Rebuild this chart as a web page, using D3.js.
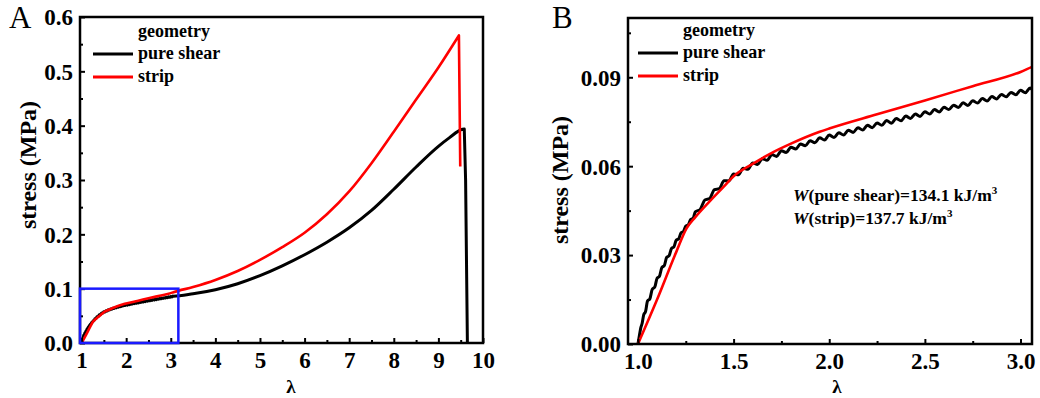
<!DOCTYPE html>
<html><head><meta charset="utf-8">
<script src="https://cdn.jsdelivr.net/npm/d3@7"></script>
<style>
html,body{margin:0;padding:0;background:#fff;}
svg{display:block;}
text{font-family:"Liberation Serif","Times New Roman",serif;}
</style></head>
<body>
<svg id="c" width="1040" height="398"></svg>
<script>
// ---- data (λ, stress MPa) ----
const pureShearLambda = [1.000,1.008,1.015,1.022,1.030,1.040,1.050,1.062,1.075,1.088,1.100,1.112,1.125,1.138,1.150,1.163,1.175,1.188,1.200,1.213,1.225,1.238,1.250,1.263,1.275,1.288,
 1.300,1.325,1.350,1.375,1.400,1.425,1.450,1.475,1.500,1.525,1.550,1.575,1.600,1.625,1.650,1.675,1.700,1.725,1.750,1.775,1.800,1.825,1.850,1.875,1.900,1.925,1.950,1.975,
 2.000,2.025,2.050,2.075,2.100,2.125,2.150,2.175,2.200,2.225,2.250,2.275,2.300,2.325,2.350,2.375,2.400,2.425,2.450,2.475,2.500,2.525,2.550,2.575,2.600,2.625,2.650,2.675,
 2.700,2.725,2.750,2.775,2.800,2.825,2.850,2.875,2.900,2.925,2.950,2.975,3.000,3.025,3.050,3.060,
 3.5,4.0,4.5,5.0,5.5,6.0,6.5,7.0,7.5,8.0,8.5,9.0,9.25,9.52,9.58,9.61,9.63,9.65];
const pureShearStress = [0,.0030,.0055,.0070,.0098,.0110,.0145,.0152,.0185,.0192,.0222,.0228,.0258,.0265,.0292,.0298,.0322,.0328,.0350,.0355,.0375,.0380,.0398,.0402,.0420,.0424,
 .0446,.0454,.0486,.0491,.0521,.0524,.0551,.0550,.0574,.0571,.0593,.0590,.0611,.0606,.0625,.0620,.0639,.0633,.0652,.0646,.0664,.0658,.0675,.0669,.0686,.0679,.0696,.0688,
 .0705,.0697,.0713,.0705,.0721,.0714,.0730,.0722,.0738,.0730,.0746,.0738,.0754,.0745,.0761,.0753,.0769,.0761,.0776,.0768,.0784,.0776,.0791,.0783,.0799,.0791,.0806,.0798,
 .0814,.0805,.0821,.0813,.0828,.0820,.0835,.0827,.0842,.0834,.0849,.0841,.0856,.0848,.0864,.0860,
 .0905,.0980,.1090,.1240,.1420,.1625,.1855,.2120,.2440,.2830,.3240,.3620,.3780,.3930,.3940,.30,.15,0];

const stripLambda = [1.00,1.10,1.20,1.254,1.30,1.376,1.45,1.50,1.60,1.70,1.80,1.95,2.00,2.25,2.50,2.75,3.00,3.06,
 3.5,4.0,4.5,5.0,5.5,6.0,6.5,7.0,7.5,8.0,8.5,9.0,9.46,9.49];
const stripStress = [0,.0150,.0310,.0390,.0428,.0482,.0532,.0566,.0608,.0645,.0676,.0716,.0727,.0775,.0822,.0870,.0918,.0935,
 .1030,.1160,.1325,.1530,.1765,.2030,.2370,.2790,.3310,.3890,.4480,.5070,.5660,.3250];

const seriesNames = ["pure shear","strip"];
const seriesColors = ["#000000","#ff0000"];

const ticksA_x = [1,2,3,4,5,6,7,8,9,10];
const ticksA_y = [0.0,0.1,0.2,0.3,0.4,0.5,0.6];
const ticksB_x = [1.0,1.5,2.0,2.5,3.0];
const ticksB_y = [0.00,0.03,0.06,0.09];
const zoomBox = [1, 3.17, 0, 0.1]; // λ0, λ1, s0, s1
const energyLabels = [["pure shear","134.1"],["strip","137.7"]];

const seriesData = [
  pureShearLambda.map((l,i)=>[l,pureShearStress[i]]),
  stripLambda.map((l,i)=>[l,stripStress[i]])
];

const svg = d3.select("#c");

function panel(cfg){
  const g = svg.append("g");
  const x = d3.scaleLinear().domain(cfg.xd).range([cfg.l,cfg.r]);
  const y = d3.scaleLinear().domain(cfg.yd).range([cfg.b,cfg.t]);
  const clipId = "clip"+cfg.id;
  svg.append("clipPath").attr("id",clipId).append("rect")
    .attr("x",cfg.l).attr("y",cfg.t).attr("width",cfg.r-cfg.l).attr("height",cfg.b-cfg.t);

  const plot = g.append("g").attr("clip-path",`url(#${clipId})`);
  const smooth = d3.line().x(d=>x(d[0])).y(d=>y(d[1])).curve(d3.curveMonotoneX);
  const straight = d3.line().x(d=>x(d[0])).y(d=>y(d[1]));
  cfg.order.forEach(i=>{
    const data = seriesData[i];
    const imax = d3.maxIndex(data, d=>d[1]);
    const dStr = smooth(data.slice(0,imax+1)) + straight(data.slice(imax)).replace(/^M[^L]*/, "");
    plot.append("path").attr("d",dStr)
      .attr("fill","none").attr("stroke",seriesColors[i])
      .attr("stroke-width",cfg.lw[i]).attr("stroke-linejoin","round");
  });
  // axes (inward ticks)
  const fs = 23;
  g.append("g").attr("transform",`translate(0,${cfg.b})`)
    .call(d3.axisBottom(x).tickValues(cfg.xt).tickSize(-5).tickPadding(9).tickFormat(cfg.xf));
  g.append("g").attr("transform",`translate(0,${cfg.b})`)
    .call(d3.axisBottom(x).tickValues(cfg.xm).tickSize(-3).tickFormat(""));
  const ay = g.append("g").attr("transform",`translate(${cfg.l},0)`)
    .call(d3.axisLeft(y).tickValues(cfg.yt).tickSize(-5).tickPadding(7).tickFormat(cfg.yf));
  g.append("g").attr("transform",`translate(${cfg.l},0)`)
    .call(d3.axisLeft(y).tickValues(cfg.ym).tickSize(-3).tickFormat(""));
  g.selectAll(".domain").remove();
  g.selectAll(".tick line").attr("stroke","#000").attr("stroke-width",2);
  g.selectAll(".tick text").attr("font-size",fs).attr("font-weight","bold")
    .attr("font-family","Liberation Serif").attr("fill","#000");
  ay.selectAll(".tick text").attr("dy","0.34em");
  // frame
  g.append("rect").attr("x",cfg.l).attr("y",cfg.t).attr("width",cfg.r-cfg.l).attr("height",cfg.b-cfg.t)
    .attr("fill","none").attr("stroke","#000").attr("stroke-width",2.5);
  if(cfg.box){
    g.append("rect").attr("x",cfg.l).attr("y",y(zoomBox[3]))
      .attr("width",x(zoomBox[1])-cfg.l).attr("height",y(zoomBox[2])-y(zoomBox[3]))
      .attr("fill","none").attr("stroke","#1a1aff").attr("stroke-width",2.5);
  }
  // axis titles
  g.append("text").attr("x",cfg.xtx).attr("y",393).attr("text-anchor","middle")
    .attr("font-size",19).attr("font-weight","bold").text("λ");
  g.append("text").attr("transform",`translate(${cfg.ytx},${cfg.yty}) rotate(-90)`)
    .attr("text-anchor","middle").attr("dy","0.35em")
    .attr("font-size",24).attr("font-weight","bold").text("stress (MPa)");
  // panel letter
  g.append("text").attr("x",cfg.px).attr("y",28).attr("font-size",31).text(cfg.id);
  // legend
  const lg = g.append("g");
  lg.append("text").attr("x",cfg.lx+45).attr("y",cfg.ly).attr("font-size",18).attr("font-weight","bold").text("geometry");
  seriesNames.forEach((n,i)=>{
    const yy = cfg.ly + 17 + i*23;
    lg.append("line").attr("x1",cfg.lx).attr("x2",cfg.lx+40).attr("y1",yy).attr("y2",yy)
      .attr("stroke",seriesColors[i]).attr("stroke-width",3);
    lg.append("text").attr("x",cfg.lx+45).attr("y",yy+5).attr("font-size",18).attr("font-weight","bold").text(n);
  });
  return {g,x,y};
}

panel({id:"A", l:80, r:483, t:17, b:343, xd:[0.965,10], yd:[0,0.6],
  xt:ticksA_x, xm:[1.5,2.5,3.5,4.5,5.5,6.5,7.5,8.5,9.5], xf:d3.format("d"),
  yt:ticksA_y, ym:[0.05,0.15,0.25,0.35,0.45,0.55], yf:d3.format(".1f"),
  order:[0,1], lw:[3,2.6], box:true,
  xtx:291, ytx:28, yty:165, px:9, lx:93, ly:37});

const pB = panel({id:"B", l:628, r:1032, t:18, b:344, xd:[0.948,3.06], yd:[0,0.11],
  xt:ticksB_x, xm:[1.25,1.75,2.25,2.75], xf:d3.format(".1f"),
  yt:ticksB_y, ym:[0.015,0.045,0.075,0.105], yf:d3.format(".2f"),
  order:[0,1], lw:[3,2.6], box:false,
  xtx:837, ytx:560, yty:180, px:552, lx:638, ly:36});

// work annotations
energyLabels.forEach((e,i)=>{
  const t = pB.g.append("text").attr("x",793).attr("y",201+i*23).attr("font-size",17.5).attr("font-weight","bold");
  t.append("tspan").attr("font-style","italic").text("W");
  t.append("tspan").text(`(${e[0]})=${e[1]} kJ/m`);
  t.append("tspan").attr("font-size",11).attr("dy",-7).text("3");
});
</script>
</body></html>
